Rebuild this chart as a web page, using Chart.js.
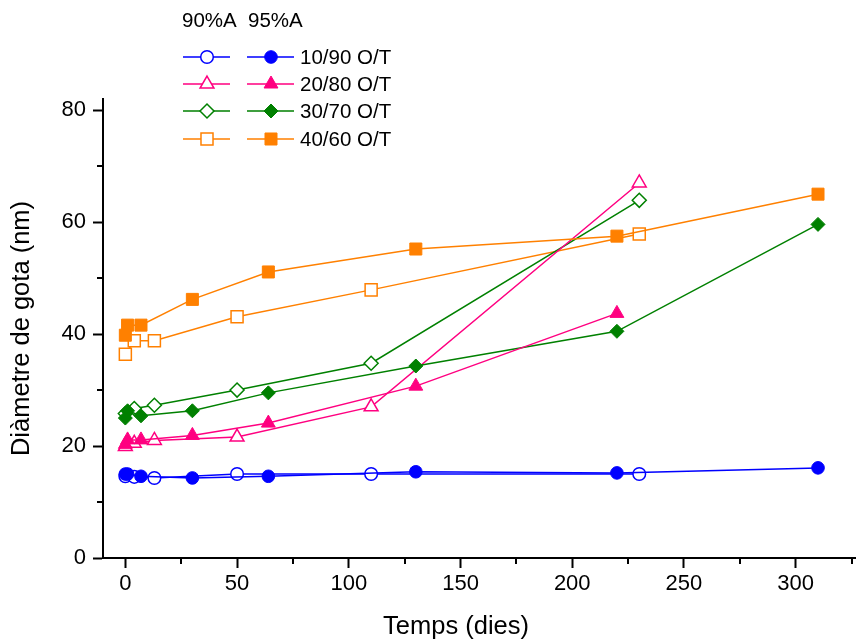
<!DOCTYPE html>
<html>
<head>
<meta charset="utf-8">
<script src="https://cdn.jsdelivr.net/npm/chart.js@4/dist/chart.umd.min.js"></script>
<style>
  html, body { margin: 0; padding: 0; background: #fff; overflow: hidden; }
  canvas { display: block; }
</style>
</head>
<body>
<canvas id="chartDrops" width="856" height="641"></canvas>
<script>
// days of measurement
const openDays = [0, 4, 13, 50, 110, 230];
const filledDays = [0, 1, 7, 30, 64, 130, 220, 310];

// 90%A (open markers)
const open10_90 = [14.6, 14.5, 14.3, 15.0, 15.0, 15.0];
const open20_80 = [19.9, 20.5, 21.0, 21.6, 27.0, 67.0];
const open30_70 = [25.8, 26.7, 27.3, 30.0, 34.8, 63.9];
const open40_60 = [36.4, 38.8, 38.8, 43.1, 47.9, 57.9];

// 95%A (filled markers)
const filled10_90 = [15.0, 15.0, 14.6, 14.3, 14.6, 15.4, 15.2, 16.1];
const filled20_80 = [20.3, 21.1, 21.1, 21.9, 24.1, 30.7, 43.7];
const filled30_70 = [25.0, 26.3, 25.4, 26.3, 29.5, 34.3, 40.5, 59.6];
const filled40_60 = [39.8, 41.6, 41.6, 46.2, 51.1, 55.2, 57.5, 65.0];

const seriesNames = ["10/90 O/T", "20/80 O/T", "30/70 O/T", "40/60 O/T"];
const seriesColors = ["#0000ff", "#ff0080", "#008000", "#ff8000"];
const seriesStyles = ["circle", "triangle", "rectRot", "rect"];
const seriesRadius = [6.3, 8, 7, 8.5];

const xTicks = [0, 50, 100, 150, 200, 250, 300];
const xMinorTicks = [25, 75, 125, 175, 225, 275, 325];
const yTicks = [0, 20, 40, 60, 80];
const yMinorTicks = [10, 30, 50, 70];

const openSeries = [open10_90, open20_80, open30_70, open40_60];
const filledSeries = [filled10_90, filled20_80, filled30_70, filled40_60];

function toPoints(days, values) {
  return values.map((v, i) => ({ x: days[i], y: v }));
}

const datasets = [];
filledSeries.forEach((vals, i) => {
  datasets.push({
    label: seriesNames[i] + " 95%A",
    data: toPoints(filledDays, vals),
    showLine: true,
    borderColor: seriesColors[i],
    backgroundColor: seriesColors[i],
    borderWidth: 1.5,
    pointStyle: seriesStyles[i],
    pointRadius: seriesRadius[i],
    pointHoverRadius: seriesRadius[i],
    pointBorderWidth: 1,
    pointBorderColor: seriesColors[i],
    pointBackgroundColor: seriesColors[i]
  });
});
openSeries.forEach((vals, i) => {
  datasets.push({
    label: seriesNames[i] + " 90%A",
    data: toPoints(openDays, vals),
    showLine: true,
    borderColor: seriesColors[i],
    backgroundColor: "#ffffff",
    borderWidth: 1.5,
    pointStyle: seriesStyles[i],
    pointRadius: seriesRadius[i],
    pointHoverRadius: seriesRadius[i],
    pointBorderWidth: 1.5,
    pointBorderColor: seriesColors[i],
    pointBackgroundColor: "#ffffff"
  });
});

// minor ticks outside the axes, and the x axis title
const axisExtras = {
  id: "axisExtras",
  afterDraw(chart) {
    const ctx = chart.ctx;
    const xs = chart.scales.x;
    const ys = chart.scales.y;
    ctx.save();
    ctx.strokeStyle = "#000";
    ctx.lineWidth = 2;
    ctx.beginPath();
    xMinorTicks.forEach((v) => {
      const px = Math.round(xs.getPixelForValue(v));
      ctx.moveTo(px, xs.top);
      ctx.lineTo(px, xs.top + 6);
    });
    yMinorTicks.forEach((v) => {
      const py = Math.round(ys.getPixelForValue(v));
      ctx.moveTo(ys.right, py);
      ctx.lineTo(ys.right - 6, py);
    });
    ctx.stroke();

    ctx.font = "25.5px 'Liberation Sans', Arial, sans-serif";
    ctx.fillStyle = "#000";
    ctx.textAlign = "center";
    ctx.textBaseline = "middle";
    ctx.fillText("Temps (dies)", 456, 627);
    ctx.restore();
  }
};

// two-column legend: 90%A open, 95%A filled
const dropLegend = {
  id: "dropLegend",
  afterDraw(chart) {
    const ctx = chart.ctx;
    const rowsY = [57, 84, 111, 139];
    ctx.save();
    ctx.font = "20.5px 'Liberation Sans', Arial, sans-serif";
    ctx.fillStyle = "#000";
    ctx.textBaseline = "middle";
    ctx.textAlign = "left";
    ctx.fillText("90%A", 182, 21);
    ctx.fillText("95%A", 248, 21);

    rowsY.forEach((y, i) => {
      const color = seriesColors[i];
      ctx.strokeStyle = color;
      ctx.lineWidth = 1.5;
      ctx.beginPath();
      ctx.moveTo(183, y);
      ctx.lineTo(230, y);
      ctx.moveTo(247, y);
      ctx.lineTo(294, y);
      ctx.stroke();

      const opts = { pointStyle: seriesStyles[i], radius: seriesRadius[i], rotation: 0, borderWidth: 1.5 };
      ctx.fillStyle = "#ffffff";
      ctx.lineWidth = 1.5;
      Chart.helpers.drawPoint(ctx, opts, 207, y);
      ctx.fillStyle = color;
      ctx.lineWidth = 1;
      Chart.helpers.drawPoint(ctx, { ...opts, borderWidth: 1 }, 271, y);

      ctx.fillStyle = "#000";
      ctx.fillText(seriesNames[i], 300, y + 1);
    });
    ctx.restore();
  }
};

Chart.defaults.font.family = "'Liberation Sans', Arial, sans-serif";
Chart.defaults.color = "#000";

new Chart(document.getElementById("chartDrops"), {
  type: "scatter",
  data: { datasets },
  options: {
    responsive: false,
    animation: false,
    layout: { autoPadding: false, padding: { top: 99, right: 0, left: 0, bottom: 0 } },
    plugins: {
      legend: { display: false },
      tooltip: { enabled: false }
    },
    scales: {
      x: {
        type: "linear",
        min: -10,
        max: 327,
        afterBuildTicks: (s) => { s.ticks = xTicks.map((v) => ({ value: v })); },
        afterFit: (s) => {
          s.height = 83;
          s.paddingLeft = 0;
          s.paddingRight = 0;
        },
        grid: { drawOnChartArea: false, drawTicks: true, tickLength: 10, tickColor: "#000", tickWidth: 2 },
        border: { display: true, color: "#000", width: 2 },
        ticks: { font: { size: 22 }, padding: 3, maxRotation: 0 },
        title: { display: false }
      },
      y: {
        type: "linear",
        min: 0,
        max: 82,
        afterBuildTicks: (s) => { s.ticks = yTicks.map((v) => ({ value: v })); },
        afterFit: (s) => {
          s.width = 103;
          s.paddingTop = 0;
          s.paddingBottom = 0;
        },
        grid: { drawOnChartArea: false, drawTicks: true, tickLength: 10, tickColor: "#000", tickWidth: 2 },
        border: { display: true, color: "#000", width: 2 },
        ticks: { font: { size: 22 }, padding: 7 },
        title: { display: true, text: "Diàmetre de gota (nm)", font: { size: 25.5 }, padding: { top: 7, bottom: 0 } }
      }
    }
  },
  plugins: [axisExtras, dropLegend]
});
</script>
</body>
</html>
